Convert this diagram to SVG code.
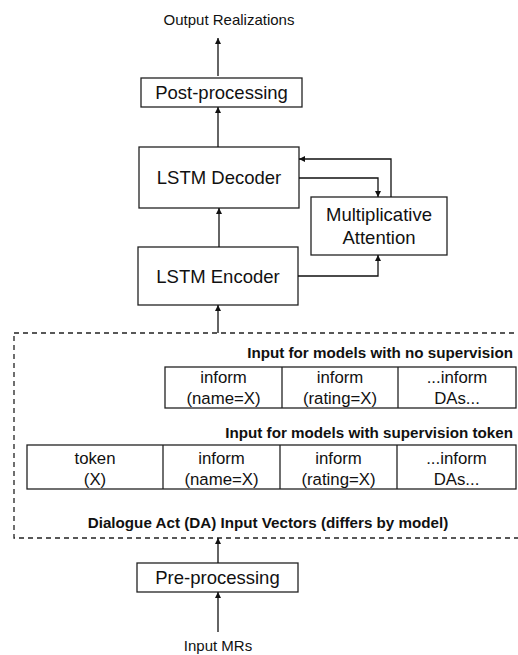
<svg xmlns="http://www.w3.org/2000/svg" width="518" height="655" viewBox="0 0 518 655">
<defs>
<marker id="ah" viewBox="0 0 10 10" refX="10" refY="5" markerWidth="6" markerHeight="6" orient="auto" markerUnits="userSpaceOnUse"><path d="M0,0 L10,5 L0,10 z" fill="#111"/></marker>
</defs>
<style>
.box{fill:#fff;stroke:#222;stroke-width:1.3}
.t18{font-family:"Liberation Sans",Arial,sans-serif;font-size:18.5px;fill:#111;text-anchor:middle}
.t17{font-family:"Liberation Sans",Arial,sans-serif;font-size:16.8px;fill:#111;text-anchor:middle}
.t15{font-family:"Liberation Sans",Arial,sans-serif;font-size:15px;fill:#111;text-anchor:middle}
.b15{font-family:"Liberation Sans",Arial,sans-serif;font-size:15.2px;font-weight:bold;fill:#111}
.c{fill:none;stroke:#111;stroke-width:1.3;marker-end:url(#ah)}
</style>
<rect width="518" height="655" fill="#fff"/>
<g id="dashed">
<rect x="14" y="333" width="510" height="205" fill="none" stroke="#222" stroke-width="1.3" stroke-dasharray="5,4"/>
</g>
<g id="output"><text class="t15" x="229" y="25">Output Realizations</text></g>
<g id="post"><rect class="box" x="141" y="78" width="161" height="29"/><text class="t18" x="221.5" y="99">Post-processing</text></g>
<g id="decoder"><rect class="box" x="139" y="147" width="160" height="61"/><text class="t18" x="219" y="184">LSTM Decoder</text></g>
<g id="attention"><rect class="box" x="311" y="197" width="136" height="58"/><text class="t18" x="379" y="221">Multiplicative</text><text class="t18" x="379" y="244">Attention</text></g>
<g id="encoder"><rect class="box" x="138" y="247" width="160" height="58"/><text class="t18" x="218" y="283">LSTM Encoder</text></g>
<g id="nosup">
<text class="b15" x="513" y="358" text-anchor="end">Input for models with no supervision</text>
<rect class="box" x="165" y="367" width="351" height="41"/>
<line x1="282" y1="367" x2="282" y2="408" stroke="#222" stroke-width="1.3"/>
<line x1="398" y1="367" x2="398" y2="408" stroke="#222" stroke-width="1.3"/>
<text class="t17" x="223.5" y="383">inform</text><text class="t17" x="223.5" y="404">(name=X)</text>
<text class="t17" x="340" y="383">inform</text><text class="t17" x="340" y="404">(rating=X)</text>
<text class="t17" x="457" y="383">...inform</text><text class="t17" x="457" y="404">DAs...</text>
</g>
<g id="sup">
<text class="b15" x="513" y="438" text-anchor="end">Input for models with supervision token</text>
<rect class="box" x="27" y="445" width="489" height="44"/>
<line x1="163" y1="445" x2="163" y2="489" stroke="#222" stroke-width="1.3"/>
<line x1="280" y1="445" x2="280" y2="489" stroke="#222" stroke-width="1.3"/>
<line x1="397" y1="445" x2="397" y2="489" stroke="#222" stroke-width="1.3"/>
<text class="t17" x="95" y="464">token</text><text class="t17" x="95" y="485">(X)</text>
<text class="t17" x="221.5" y="464">inform</text><text class="t17" x="221.5" y="485">(name=X)</text>
<text class="t17" x="338.5" y="464">inform</text><text class="t17" x="338.5" y="485">(rating=X)</text>
<text class="t17" x="456.5" y="464">...inform</text><text class="t17" x="456.5" y="485">DAs...</text>
</g>
<g id="dalabel"><text class="b15" x="268" y="528" text-anchor="middle">Dialogue Act (DA) Input Vectors (differs by model)</text></g>
<g id="pre"><rect class="box" x="137" y="563" width="161" height="29"/><text class="t18" x="217.5" y="584">Pre-processing</text></g>
<g id="input"><text class="t15" x="218" y="651">Input MRs</text></g>
<g id="connectors">
<path class="c" d="M218,76 V38"/>
<path class="c" d="M218,147 V107"/>
<path class="c" d="M219,247 V208"/>
<path class="c" d="M218,333 V305"/>
<path class="c" d="M218,563 V538"/>
<path class="c" d="M218,632 V592"/>
<path class="c" d="M299,178 H378 V197"/>
<path class="c" d="M391,197 V159 H299"/>
<path class="c" d="M298,276 H378 V255"/>
</g>
</svg>
